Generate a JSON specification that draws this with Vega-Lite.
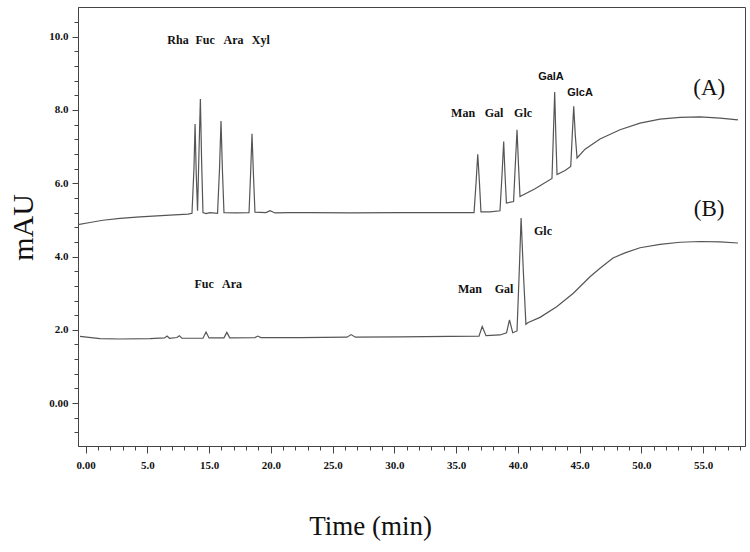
{
  "$schema": "https://vega.github.io/schema/vega-lite/v6.json",
  "autosize": {"type": "none"},
  "width": 667,
  "height": 439,
  "padding": {"left": 78, "top": 7, "right": 5, "bottom": 106},
  "background": "white",
  "config": {
    "view": {"stroke": "#444", "strokeWidth": 1},
    "axis": {"domainColor": "#444", "tickColor": "#444", "labelFont": "Liberation Serif", "labelFontWeight": "bold", "labelFontSize": 11, "labelColor": "#111", "grid": false}
  },
  "datasets": {
    "traces": [
      {"t": -0.61, "mAU": 4.87, "trace": "A"},
      {"t": 0.36, "mAU": 4.93, "trace": "A"},
      {"t": 1.41, "mAU": 4.99, "trace": "A"},
      {"t": 2.79, "mAU": 5.04, "trace": "A"},
      {"t": 4.41, "mAU": 5.08, "trace": "A"},
      {"t": 6.84, "mAU": 5.13, "trace": "A"},
      {"t": 8.3, "mAU": 5.16, "trace": "A"},
      {"t": 8.62, "mAU": 5.18, "trace": "A"},
      {"t": 8.78, "mAU": 6.4, "trace": "A"},
      {"t": 8.87, "mAU": 7.62, "trace": "A"},
      {"t": 8.96, "mAU": 6.3, "trace": "A"},
      {"t": 9.07, "mAU": 5.25, "trace": "A"},
      {"t": 9.19, "mAU": 6.9, "trace": "A"},
      {"t": 9.3, "mAU": 8.3, "trace": "A"},
      {"t": 9.4, "mAU": 6.6, "trace": "A"},
      {"t": 9.51, "mAU": 5.2, "trace": "A"},
      {"t": 9.76, "mAU": 5.17, "trace": "A"},
      {"t": 10.08, "mAU": 5.2, "trace": "A"},
      {"t": 10.69, "mAU": 5.18, "trace": "A"},
      {"t": 10.85, "mAU": 6.4, "trace": "A"},
      {"t": 10.97, "mAU": 7.7, "trace": "A"},
      {"t": 11.09, "mAU": 6.3, "trace": "A"},
      {"t": 11.21, "mAU": 5.2, "trace": "A"},
      {"t": 12.11, "mAU": 5.19, "trace": "A"},
      {"t": 13.24, "mAU": 5.2, "trace": "A"},
      {"t": 13.37, "mAU": 6.3, "trace": "A"},
      {"t": 13.48, "mAU": 7.35, "trace": "A"},
      {"t": 13.6, "mAU": 6.2, "trace": "A"},
      {"t": 13.72, "mAU": 5.21, "trace": "A"},
      {"t": 14.6, "mAU": 5.2, "trace": "A"},
      {"t": 14.94, "mAU": 5.25, "trace": "A"},
      {"t": 15.34, "mAU": 5.19, "trace": "A"},
      {"t": 16.56, "mAU": 5.2, "trace": "A"},
      {"t": 18.18, "mAU": 5.2, "trace": "A"},
      {"t": 21.42, "mAU": 5.19, "trace": "A"},
      {"t": 25.47, "mAU": 5.2, "trace": "A"},
      {"t": 28.7, "mAU": 5.2, "trace": "A"},
      {"t": 31.46, "mAU": 5.2, "trace": "A"},
      {"t": 31.62, "mAU": 6.0, "trace": "A"},
      {"t": 31.76, "mAU": 6.79, "trace": "A"},
      {"t": 31.9, "mAU": 6.0, "trace": "A"},
      {"t": 32.02, "mAU": 5.22, "trace": "A"},
      {"t": 32.75, "mAU": 5.22, "trace": "A"},
      {"t": 33.56, "mAU": 5.25, "trace": "A"},
      {"t": 33.72, "mAU": 6.2, "trace": "A"},
      {"t": 33.86, "mAU": 7.14, "trace": "A"},
      {"t": 33.96, "mAU": 6.3, "trace": "A"},
      {"t": 34.08, "mAU": 5.46, "trace": "A"},
      {"t": 34.66, "mAU": 5.5, "trace": "A"},
      {"t": 34.8, "mAU": 6.5, "trace": "A"},
      {"t": 34.94, "mAU": 7.46, "trace": "A"},
      {"t": 35.06, "mAU": 6.5, "trace": "A"},
      {"t": 35.18, "mAU": 5.64, "trace": "A"},
      {"t": 36.4, "mAU": 5.85, "trace": "A"},
      {"t": 37.77, "mAU": 6.13, "trace": "A"},
      {"t": 37.88, "mAU": 7.3, "trace": "A"},
      {"t": 37.99, "mAU": 8.49, "trace": "A"},
      {"t": 38.09, "mAU": 7.2, "trace": "A"},
      {"t": 38.18, "mAU": 6.24, "trace": "A"},
      {"t": 38.83, "mAU": 6.35, "trace": "A"},
      {"t": 39.29, "mAU": 6.46, "trace": "A"},
      {"t": 39.41, "mAU": 7.3, "trace": "A"},
      {"t": 39.53, "mAU": 8.1, "trace": "A"},
      {"t": 39.66, "mAU": 7.3, "trace": "A"},
      {"t": 39.8, "mAU": 6.69, "trace": "A"},
      {"t": 40.45, "mAU": 6.93, "trace": "A"},
      {"t": 41.66, "mAU": 7.21, "trace": "A"},
      {"t": 43.28, "mAU": 7.46, "trace": "A"},
      {"t": 44.9, "mAU": 7.64, "trace": "A"},
      {"t": 46.52, "mAU": 7.75, "trace": "A"},
      {"t": 48.14, "mAU": 7.8, "trace": "A"},
      {"t": 49.76, "mAU": 7.81, "trace": "A"},
      {"t": 51.38, "mAU": 7.78, "trace": "A"},
      {"t": 52.83, "mAU": 7.73, "trace": "A"},
      {"t": -0.45, "mAU": 1.82, "trace": "B"},
      {"t": 1.17, "mAU": 1.76, "trace": "B"},
      {"t": 2.79, "mAU": 1.75, "trace": "B"},
      {"t": 5.22, "mAU": 1.76, "trace": "B"},
      {"t": 6.4, "mAU": 1.78, "trace": "B"},
      {"t": 6.6, "mAU": 1.83, "trace": "B"},
      {"t": 6.8, "mAU": 1.77, "trace": "B"},
      {"t": 7.4, "mAU": 1.79, "trace": "B"},
      {"t": 7.6, "mAU": 1.84, "trace": "B"},
      {"t": 7.8, "mAU": 1.77, "trace": "B"},
      {"t": 9.51, "mAU": 1.77, "trace": "B"},
      {"t": 9.76, "mAU": 1.94, "trace": "B"},
      {"t": 10.0, "mAU": 1.78, "trace": "B"},
      {"t": 11.21, "mAU": 1.78, "trace": "B"},
      {"t": 11.44, "mAU": 1.93, "trace": "B"},
      {"t": 11.68, "mAU": 1.78, "trace": "B"},
      {"t": 13.72, "mAU": 1.79, "trace": "B"},
      {"t": 13.95, "mAU": 1.83, "trace": "B"},
      {"t": 14.2, "mAU": 1.79, "trace": "B"},
      {"t": 17.37, "mAU": 1.79, "trace": "B"},
      {"t": 21.17, "mAU": 1.8, "trace": "B"},
      {"t": 21.5, "mAU": 1.87, "trace": "B"},
      {"t": 21.85, "mAU": 1.8, "trace": "B"},
      {"t": 25.47, "mAU": 1.81, "trace": "B"},
      {"t": 29.51, "mAU": 1.82, "trace": "B"},
      {"t": 31.86, "mAU": 1.83, "trace": "B"},
      {"t": 32.12, "mAU": 2.09, "trace": "B"},
      {"t": 32.43, "mAU": 1.84, "trace": "B"},
      {"t": 33.56, "mAU": 1.86, "trace": "B"},
      {"t": 34.09, "mAU": 1.92, "trace": "B"},
      {"t": 34.33, "mAU": 2.27, "trace": "B"},
      {"t": 34.59, "mAU": 1.92, "trace": "B"},
      {"t": 34.94, "mAU": 1.97, "trace": "B"},
      {"t": 35.12, "mAU": 3.6, "trace": "B"},
      {"t": 35.27, "mAU": 5.05, "trace": "B"},
      {"t": 35.45, "mAU": 3.6, "trace": "B"},
      {"t": 35.66, "mAU": 2.15, "trace": "B"},
      {"t": 35.85, "mAU": 2.2, "trace": "B"},
      {"t": 36.8, "mAU": 2.34, "trace": "B"},
      {"t": 38.15, "mAU": 2.63, "trace": "B"},
      {"t": 39.5, "mAU": 3.0, "trace": "B"},
      {"t": 40.85, "mAU": 3.45, "trace": "B"},
      {"t": 41.66, "mAU": 3.68, "trace": "B"},
      {"t": 42.71, "mAU": 3.96, "trace": "B"},
      {"t": 43.68, "mAU": 4.1, "trace": "B"},
      {"t": 44.9, "mAU": 4.24, "trace": "B"},
      {"t": 46.52, "mAU": 4.33, "trace": "B"},
      {"t": 48.14, "mAU": 4.39, "trace": "B"},
      {"t": 49.76, "mAU": 4.41, "trace": "B"},
      {"t": 51.38, "mAU": 4.4, "trace": "B"},
      {"t": 52.83, "mAU": 4.37, "trace": "B"}
    ],
    "sugars": [
      {"t": 7.49, "mAU": 9.92, "name": "Rha"},
      {"t": 9.68, "mAU": 9.92, "name": "Fuc"},
      {"t": 11.98, "mAU": 9.92, "name": "Ara"},
      {"t": 14.19, "mAU": 9.92, "name": "Xyl"},
      {"t": 30.57, "mAU": 7.92, "name": "Man"},
      {"t": 33.08, "mAU": 7.92, "name": "Gal"},
      {"t": 35.43, "mAU": 7.92, "name": "Glc"},
      {"t": 9.6, "mAU": 3.25, "name": "Fuc"},
      {"t": 11.86, "mAU": 3.25, "name": "Ara"},
      {"t": 31.13, "mAU": 3.11, "name": "Man"},
      {"t": 33.89, "mAU": 3.11, "name": "Gal"},
      {"t": 37.04, "mAU": 4.7, "name": "Glc"}
    ],
    "acids": [
      {"t": 37.69, "mAU": 8.91, "name": "GalA"},
      {"t": 40.04, "mAU": 8.47, "name": "GlcA"}
    ],
    "panels": [
      {"t": 50.5, "mAU": 8.61, "name": "(A)"},
      {"t": 50.5, "mAU": 5.3, "name": "(B)"}
    ]
  },
  "encoding": {
    "x": {
      "field": "t", "type": "quantitative",
      "scale": {"domain": [-0.61, 53.4], "nice": false, "zero": false},
      "axis": {
        "title": "Time (min)",
        "titleFont": "Liberation Serif", "titleFontWeight": "normal", "titleFontSize": 27, "titleColor": "#111",
        "titleX": 292, "titleY": 88, "titleBaseline": "alphabetic", "titleAnchor": null,
        "values": [0,1,2,3,4,5,6,7,8,9,10,11,12,13,14,15,16,17,18,19,20,21,22,23,24,25,26,27,28,29,30,31,32,33,34,35,36,37,38,39,40,41,42,43,44,45,46,47,48,49,50,51,52,53],
        "labelExpr": "datum.value == 0 ? '0.00' : (datum.value % 5 == 0 ? format(datum.value < 10 ? datum.value : datum.value + 5, '.1f') : '')",
        "tickSize": {"condition": {"test": "datum.value % 5 == 0", "value": 7}, "value": 4},
        "labelPadding": 6,
        "labelFlush": false,
        "labelOverlap": false
      }
    },
    "y": {
      "field": "mAU", "type": "quantitative",
      "scale": {"domain": [-1.17, 10.81], "nice": false, "zero": false},
      "axis": {
        "title": "mAU",
        "titleFont": "Liberation Serif", "titleFontWeight": "normal", "titleFontSize": 30, "titleColor": "#111",
        "titleAngle": -90, "titleX": -46, "titleY": 220, "titleBaseline": "alphabetic", "titleAnchor": null,
        "values": [-0.8,-0.4,0,0.4,0.8,1.2,1.6,2,2.4,2.8,3.2,3.6,4,4.4,4.8,5.2,5.6,6,6.4,6.8,7.2,7.6,8,8.4,8.8,9.2,9.6,10,10.4],
        "labelExpr": "abs(datum.value - 2 * round(datum.value / 2)) < 0.01 ? (datum.value == 0 ? '0.00' : format(datum.value, '.1f')) : ''",
        "tickSize": {"condition": {"test": "abs(datum.value - 2 * round(datum.value / 2)) < 0.01", "value": 6}, "value": 4},
        "labelPadding": 4,
        "labelOverlap": false
      }
    }
  },
  "layer": [
    {
      "data": {"name": "traces"},
      "mark": {"type": "line", "color": "#555", "strokeWidth": 1.2},
      "encoding": {"detail": {"field": "trace"}, "order": {"field": "t", "type": "quantitative"}}
    },
    {
      "data": {"name": "sugars"},
      "mark": {"type": "text", "font": "Liberation Serif", "fontWeight": "bold", "fontSize": 12, "color": "#111", "align": "center", "baseline": "middle"},
      "encoding": {"text": {"field": "name"}}
    },
    {
      "data": {"name": "acids"},
      "mark": {"type": "text", "font": "Liberation Sans", "fontWeight": "bold", "fontSize": 11, "color": "#111", "align": "center", "baseline": "middle"},
      "encoding": {"text": {"field": "name"}}
    },
    {
      "data": {"name": "panels"},
      "mark": {"type": "text", "font": "Liberation Serif", "fontWeight": "normal", "fontSize": 23, "color": "#111", "align": "center", "baseline": "middle"},
      "encoding": {"text": {"field": "name"}}
    }
  ]
}
